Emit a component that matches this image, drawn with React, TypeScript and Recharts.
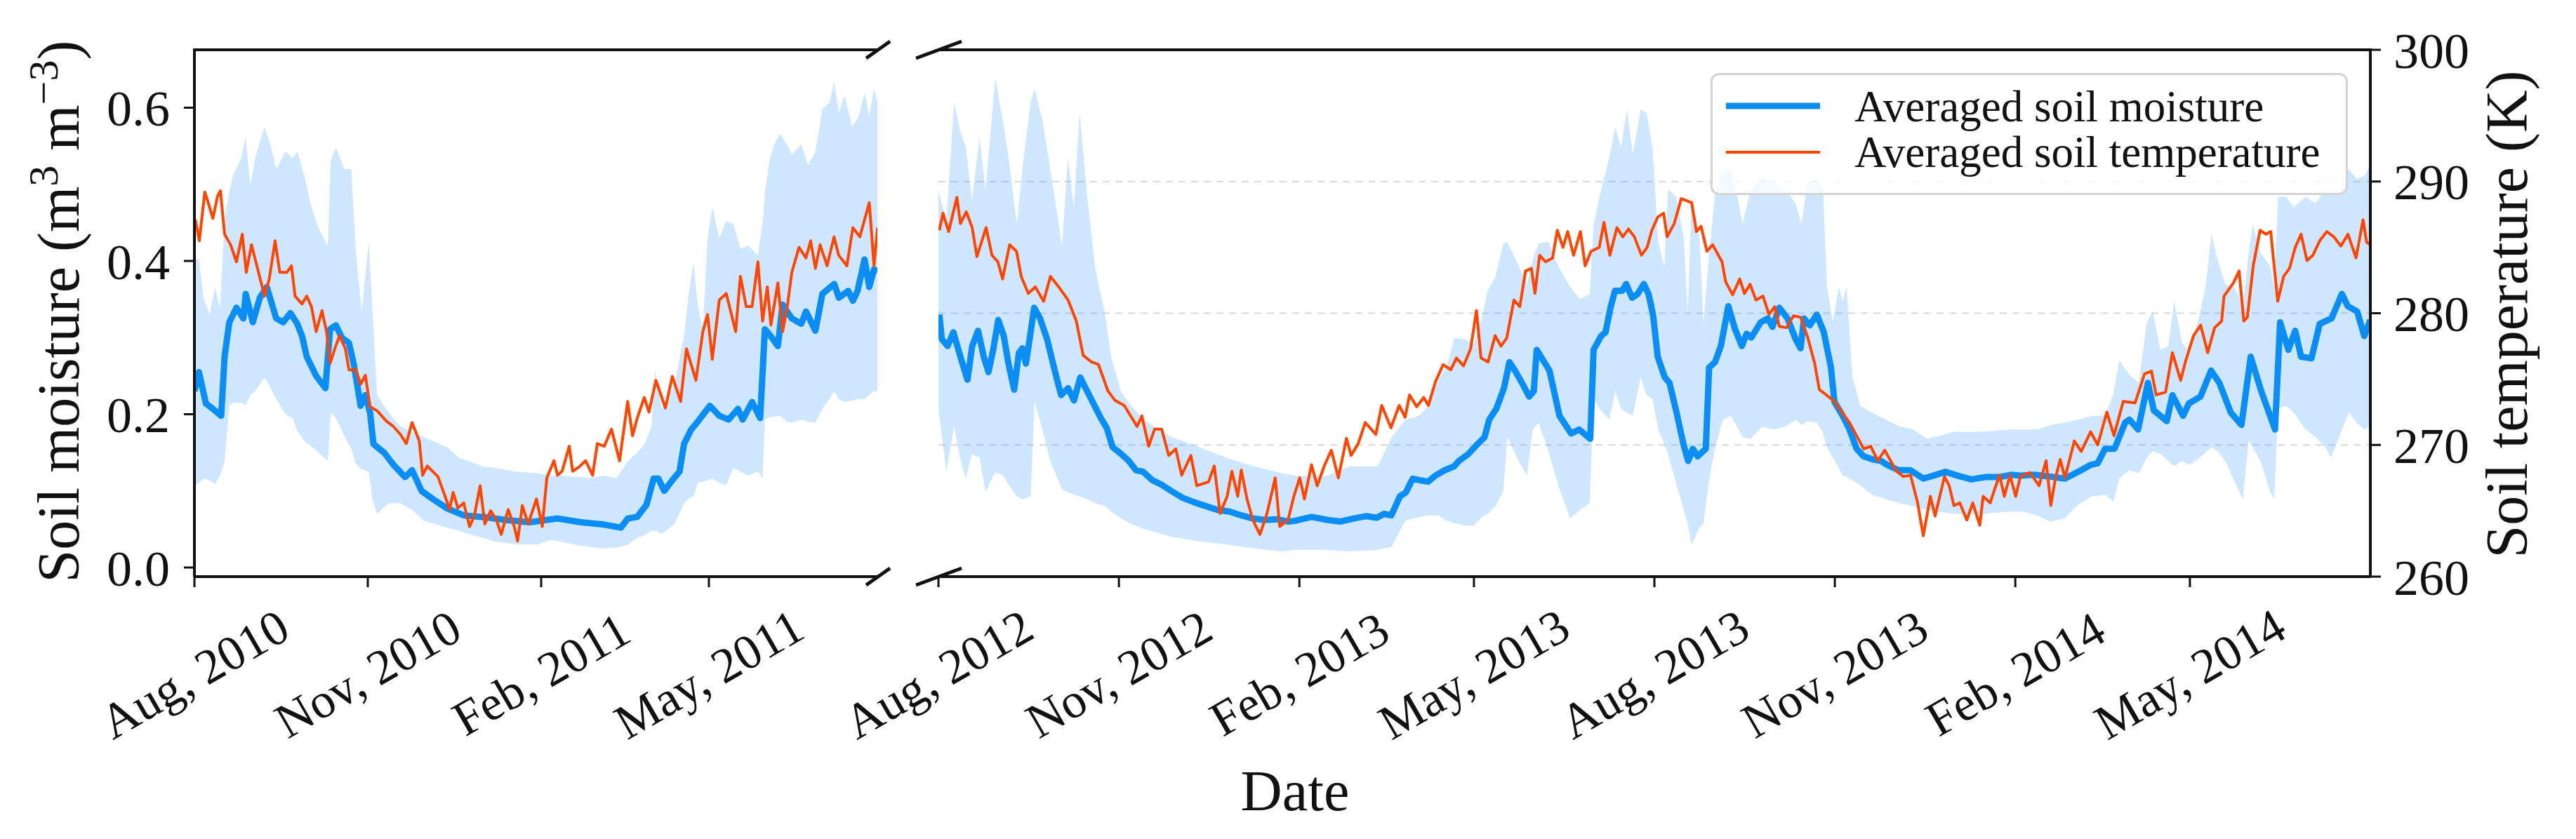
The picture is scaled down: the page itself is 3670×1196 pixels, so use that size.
import React from "react";
import { ComposedChart, Line, Area, XAxis, YAxis, CartesianGrid, Legend } from "recharts";

const FONT = '"Liberation Serif", "Times New Roman", serif';
const INK = "#111";
const SM_BLUE = "#0a8ef5";
const ST_ORANGE = "#ff4500";
const BAND = "#1e90ff";

// x values are days since the first day shown in each panel (Aug 1 2010 / Aug 1 2012)
const leftTickDays = [0, 92, 184, 273];
const leftTickLabels = ["Aug, 2010", "Nov, 2010", "Feb, 2011", "May, 2011"];
const rightTickDays = [0, 92, 184, 273, 365, 457, 549, 638];
const rightTickLabels = [
  "Aug, 2012",
  "Nov, 2012",
  "Feb, 2013",
  "May, 2013",
  "Aug, 2013",
  "Nov, 2013",
  "Feb, 2014",
  "May, 2014",
];
const smTicks = [0, 0.2, 0.4, 0.6];
const stTicks = [260, 270, 280, 290, 300];

// averaged soil moisture, [day, m3/m3]
const smLeft: [number, number][] = [
  [0, 0.23], [2.4, 0.255], [6.1, 0.214], [9.8, 0.207], [14.2, 0.198], [16, 0.275], [18.5, 0.32],
  [22.3, 0.339], [26, 0.325], [27.2, 0.357], [31, 0.32], [34.7, 0.352], [38.4, 0.366], [43.4, 0.325],
  [47.1, 0.32], [50.9, 0.332], [54.6, 0.318], [57.1, 0.302], [59.6, 0.275], [64.6, 0.25], [69.5, 0.234],
  [72, 0.311], [75.1, 0.316], [78.2, 0.3], [82, 0.293], [84.5, 0.266], [88.2, 0.211], [90.7, 0.225],
  [93.2, 0.202], [95, 0.161], [100.6, 0.15], [105.6, 0.134], [111.8, 0.118], [115.5, 0.127], [120.5, 0.1],
  [126.7, 0.089], [134.2, 0.077], [142.9, 0.068], [152.9, 0.066], [165.3, 0.062], [177.7, 0.059],
  [192.7, 0.064], [205.1, 0.059], [217.5, 0.056], [226.3, 0.052], [230, 0.064], [234.9, 0.066],
  [239.9, 0.082], [243.7, 0.116], [246.2, 0.116], [249.3, 0.1], [253.6, 0.114], [257.4, 0.125],
  [259.8, 0.161], [263.6, 0.18], [267.3, 0.191], [273.5, 0.211], [278.5, 0.198], [283.5, 0.193],
  [288.4, 0.207], [290.9, 0.193], [295.9, 0.216], [300.2, 0.195], [302.7, 0.311], [305.8, 0.302],
  [309.6, 0.289], [312.1, 0.343], [317, 0.325], [322, 0.318], [324.5, 0.334], [329.5, 0.309],
  [333.2, 0.357], [339.5, 0.37], [342, 0.352], [346.9, 0.361], [349.4, 0.348], [351.9, 0.361],
  [355.6, 0.402], [358.1, 0.366], [360.6, 0.389], [362.5, 0.386],
];

const smRight: [number, number][] = [
  [0.5, 0.33], [1.7, 0.298], [4.7, 0.289], [7.6, 0.307], [11.2, 0.275], [14.8, 0.245], [17.2, 0.289],
  [20.2, 0.309], [23.1, 0.275], [25.5, 0.255], [27.9, 0.284], [30.5, 0.323], [33.3, 0.302], [35.7, 0.266],
  [38.6, 0.232], [41, 0.28], [42.8, 0.286], [44.6, 0.266], [47, 0.307], [48.8, 0.339], [51.8, 0.325],
  [55.4, 0.298], [58.9, 0.261], [62.5, 0.225], [66.1, 0.234], [69.1, 0.218], [72.3, 0.248], [75, 0.234],
  [78.6, 0.216], [82.8, 0.195], [85.8, 0.182], [88.8, 0.157], [92.3, 0.15], [97.1, 0.139], [100.7, 0.127],
  [104.3, 0.125], [109, 0.114], [113.8, 0.108], [118.6, 0.1], [124.5, 0.091], [130.5, 0.085],
  [136.5, 0.08], [142.4, 0.075], [148.4, 0.073], [154.4, 0.068], [160.3, 0.064], [166.3, 0.062],
  [172.3, 0.063], [178.2, 0.06], [181.8, 0.061], [190.2, 0.066], [198.5, 0.062], [205, 0.06],
  [211.6, 0.064], [217.9, 0.067], [223.5, 0.065], [227.1, 0.07], [230.9, 0.068], [235.3, 0.093],
  [238.3, 0.098], [241.8, 0.116], [245.1, 0.114], [249.7, 0.112], [253.4, 0.12], [258.1, 0.127],
  [262.9, 0.132], [265.3, 0.139], [270.1, 0.148], [274.8, 0.161], [278.4, 0.17], [280.8, 0.193],
  [284.4, 0.207], [288.3, 0.234], [291.1, 0.268], [293.9, 0.257], [297.9, 0.239], [301.2, 0.223],
  [303.5, 0.23], [305, 0.284], [308.4, 0.27], [311.5, 0.257], [316.6, 0.198], [322.5, 0.175],
  [326.7, 0.18], [332.3, 0.168], [334, 0.284], [337.8, 0.302], [340.1, 0.307], [342.6, 0.339],
  [344.9, 0.361], [348.6, 0.361], [350.6, 0.37], [353.6, 0.352], [356.5, 0.357], [359.6, 0.37],
  [362, 0.357], [364.3, 0.33], [366.7, 0.275], [370.3, 0.248], [372.7, 0.241], [376.3, 0.202],
  [379.8, 0.161], [382.2, 0.139], [384.6, 0.155], [387, 0.145], [391.2, 0.155], [392.9, 0.261],
  [395.9, 0.268], [398.9, 0.289], [402.7, 0.341], [406.1, 0.311], [409.6, 0.289], [412, 0.305],
  [414.4, 0.3], [419.2, 0.32], [422.8, 0.325], [425.2, 0.314], [428.7, 0.339], [432.9, 0.325],
  [437, 0.298], [439.5, 0.286], [441.3, 0.325], [444.2, 0.316], [447.8, 0.33], [451.4, 0.307],
  [455, 0.261], [456.8, 0.216], [461, 0.198], [464.5, 0.18], [468.1, 0.155], [471.7, 0.145],
  [476.4, 0.141], [480.6, 0.139], [483.6, 0.134], [489.5, 0.127], [495.5, 0.127], [502.1, 0.116],
  [507.4, 0.12], [513.4, 0.125], [519.4, 0.12], [526.5, 0.115], [533.7, 0.118], [540.9, 0.118],
  [546.8, 0.121], [551.6, 0.12], [558.8, 0.121], [568.3, 0.118], [574.3, 0.116], [582.6, 0.127],
  [587.4, 0.134], [591, 0.136], [594.8, 0.155], [599.6, 0.155], [605, 0.189], [607.2, 0.193],
  [611.6, 0.18], [616.6, 0.241], [619.6, 0.205], [626.2, 0.191], [629.1, 0.225], [634.5, 0.198],
  [637.5, 0.214], [643.4, 0.223], [648.8, 0.257], [653, 0.241], [658.9, 0.202], [664.3, 0.186],
  [669, 0.275], [674.4, 0.23], [681.4, 0.18], [684, 0.32], [688.2, 0.284], [691.7, 0.309],
  [694.7, 0.275], [700, 0.273], [704.2, 0.318], [710.2, 0.325], [715.5, 0.357], [718.5, 0.341],
  [723.3, 0.334], [726.9, 0.302], [730, 0.323],
];

// averaged soil temperature, [day, K]
const stLeft: [number, number][] = [
  [0.5, 287.1], [2.6, 285.5], [5.5, 289.2], [7.3, 288.4], [9.8, 287.2], [12.3, 288.9], [13.8, 289.3],
  [16, 286.0], [19.2, 285.2], [22.3, 283.9], [25.4, 286.0], [27.5, 283.1], [30.3, 285.2], [33.5, 283.4],
  [37.2, 281.3], [39.7, 282.6], [42.8, 285.5], [45.3, 283.1], [49, 283.1], [51.5, 283.6], [53.4, 281.3],
  [57.1, 280.7], [59.6, 281.3], [62.1, 280.5], [64.6, 278.6], [67.7, 280.2], [70.1, 278.6], [72, 276.2],
  [74.5, 277.3], [77, 278.3], [80.1, 277.3], [82, 275.7], [85.7, 275.7], [88.2, 274.6], [90.7, 275.3],
  [93.2, 272.9], [96.9, 272.6], [101.9, 271.8], [105.6, 271.4], [109.3, 270.8], [112.4, 270.1],
  [115.5, 271.7], [119.3, 270.3], [121.1, 267.7], [123.6, 268.4], [129.2, 267.6], [133, 266.1],
  [135.4, 265.1], [137.3, 266.4], [139.8, 265.2], [142.9, 265.6], [146, 263.8], [148.5, 264.6],
  [151.6, 266.9], [154.1, 264.0], [157.2, 265.0], [160.3, 264.3], [162.8, 263.2], [166.5, 265.1],
  [169.7, 263.8], [171.5, 262.7], [174, 265.4], [177.1, 264.0], [181.5, 265.9], [184.6, 263.8],
  [187, 267.5], [190.8, 268.8], [192.7, 267.7], [195.1, 268.0], [198.9, 269.9], [200.7, 268.0],
  [203.9, 268.3], [207.6, 268.8], [211.3, 267.7], [213.8, 270.1], [217.5, 269.9], [221.3, 271.2],
  [225.6, 268.8], [229.9, 273.3], [232.5, 270.7], [234.9, 272.0], [238.7, 273.6], [241.2, 272.5],
  [244.9, 274.9], [249.9, 272.8], [253.6, 275.2], [258, 273.3], [261.1, 277.3], [266.1, 274.9],
  [269.8, 278.6], [272.3, 279.9], [274.8, 276.5], [278.5, 281.0], [282.2, 281.5], [287.2, 278.6],
  [289.7, 282.8], [292.8, 280.5], [295.9, 280.5], [299, 283.9], [301.5, 279.4], [304, 282.0],
  [305.9, 279.1], [309.6, 282.3], [312.1, 278.6], [314.6, 280.5], [317, 283.1], [320.8, 285.0],
  [324.5, 284.2], [327, 285.5], [329.5, 283.4], [332, 285.2], [335.7, 283.6], [339.4, 285.8],
  [341.9, 284.4], [346.2, 283.6], [349.4, 286.5], [353.1, 285.8], [358.1, 288.4], [360.6, 283.6],
  [362.5, 286.5],
];

const stRight: [number, number][] = [
  [0.5, 286.3], [2.3, 287.6], [5.2, 286.2], [9.4, 288.8], [11.2, 286.8], [14.2, 287.7], [17.2, 286.5],
  [19.6, 284.3], [24.3, 286.5], [27.3, 284.4], [30.3, 283.9], [32.7, 282.6], [36.3, 285.2], [39.8, 284.7],
  [42.2, 282.8], [45.8, 281.5], [49.4, 282.0], [53.6, 280.9], [57.1, 282.8], [61.3, 282.0], [66.1, 281.0],
  [70.3, 279.4], [73.8, 276.8], [78, 276.3], [81.6, 276.1], [86.4, 274.1], [89.9, 273.4], [94.7, 273.0],
  [101.3, 271.4], [103.7, 272.2], [107.2, 269.9], [110.2, 271.2], [113.8, 271.2], [117.4, 269.2],
  [121, 269.7], [124, 267.7], [128.7, 269.2], [131.7, 266.9], [137.7, 267.2], [140.6, 268.4],
  [143.6, 264.8], [147.2, 266.1], [149.6, 268.0], [152.6, 266.1], [154.4, 268.1], [157.3, 265.9],
  [160.3, 264.3], [163.9, 263.2], [167.5, 264.8], [171.7, 267.5], [174, 263.8], [178.2, 264.3],
  [181.2, 266.1], [184.2, 267.5], [186.6, 265.9], [190.2, 268.5], [193.1, 266.9], [196.7, 268.4],
  [200.3, 269.6], [203.9, 267.5], [208, 270.5], [210.4, 269.2], [214, 270.1], [217.6, 271.7],
  [223, 270.8], [226, 273.0], [230.7, 271.3], [234.9, 273.0], [237.9, 272.1], [240.2, 273.8],
  [243.8, 272.9], [247.4, 273.6], [249.8, 273.0], [253.4, 274.8], [257.3, 276.1], [261.2, 275.7],
  [264.1, 276.6], [267.7, 276.0], [271.3, 277.3], [274.3, 280.2], [276.6, 276.6], [280.2, 276.3],
  [283.8, 278.3], [286.8, 277.5], [289.7, 278.1], [293.4, 281.0], [296.4, 280.5], [299.3, 283.2],
  [302.3, 283.4], [304.1, 281.5], [306.5, 284.4], [309.5, 283.9], [313.1, 284.2], [315.5, 286.3],
  [318.4, 285.0], [320.8, 286.2], [323.8, 284.4], [327.3, 286.2], [329.7, 283.6], [332.7, 284.7],
  [336.9, 285.0], [339.3, 286.9], [342.3, 284.4], [345.9, 286.5], [348.9, 285.8], [351.8, 286.4],
  [354.8, 285.8], [358.4, 284.4], [361.3, 285.0], [363.7, 286.3], [366.7, 287.3], [369.7, 287.6],
  [371.5, 285.8], [375.1, 286.8], [378.7, 288.7], [384, 288.4], [386.4, 286.2], [388.8, 286.6],
  [391.8, 284.7], [394.7, 285.2], [399.5, 283.9], [401.3, 282.4], [404.9, 281.4], [408.5, 282.6],
  [410.9, 281.5], [413.8, 282.2], [416.8, 281.0], [420.4, 281.3], [423.4, 279.9], [426.3, 280.5],
  [428.7, 279.0], [432.3, 278.9], [435.9, 279.8], [439.5, 279.7], [443.1, 278.2], [446.7, 276.2],
  [449.1, 274.2], [452.6, 273.8], [456.8, 273.3], [461, 272.4], [464.5, 271.7], [468.1, 270.7],
  [471.7, 269.7], [475.3, 269.9], [478.9, 268.8], [482.4, 269.6], [485.4, 268.8], [488.4, 268.0],
  [492, 267.6], [495.6, 267.7], [499.2, 265.6], [502.1, 263.1], [505.7, 266.1], [508.1, 264.6],
  [512.9, 267.6], [515.3, 266.9], [517.7, 265.4], [520.7, 265.6], [524.3, 264.3], [527.3, 265.6],
  [530.9, 263.9], [532.6, 266.1], [536.2, 265.6], [538.6, 266.7], [541, 267.7], [543.4, 266.1],
  [546.3, 267.7], [549.2, 266.1], [551.6, 267.6], [556.4, 267.9], [561.1, 266.9], [564.7, 268.8],
  [567.1, 265.4], [569.5, 267.5], [571.9, 268.9], [574.3, 267.5], [579.1, 270.3], [582.6, 269.5],
  [587.4, 271.0], [591, 270.0], [595.7, 272.5], [599.3, 270.7], [604, 273.3], [610.1, 273.2],
  [614.9, 275.4], [618.4, 275.6], [620.8, 273.8], [625.6, 274.0], [629.1, 277.0], [633.3, 274.9],
  [635.7, 276.3], [639.9, 278.3], [643.5, 279.1], [647.1, 277.0], [650.6, 278.9], [654.2, 279.4],
  [655.4, 281.3], [660.2, 282.3], [663.1, 283.2], [665.5, 279.4], [667.3, 279.7], [670.3, 283.6],
  [673.8, 286.3], [676.8, 286.0], [679.2, 286.2], [682.8, 280.9], [685.8, 282.8], [688.8, 283.4],
  [691.7, 285.0], [694.7, 286.0], [697.7, 284.0], [700.7, 284.4], [704.2, 285.5], [707.8, 286.2],
  [711.4, 285.8], [715, 285.1], [718.6, 286.0], [722.7, 284.2], [726.3, 287.1], [728.1, 285.4],
  [730, 285.2],
];

// spread of soil moisture across stations, [day, low, high]
const bandLeft: [number, number, number][] = [
  [0, 0.107, 0.402], [2.4, 0.11, 0.402], [5, 0.116, 0.35], [8, 0.114, 0.33], [11, 0.109, 0.366],
  [13.6, 0.12, 0.339], [16, 0.139, 0.457], [18.5, 0.211, 0.49], [20.4, 0.215, 0.511], [24.8, 0.215, 0.534],
  [27.2, 0.212, 0.561], [29.7, 0.225, 0.498], [32.2, 0.23, 0.534], [37.2, 0.248, 0.575], [40.3, 0.235, 0.552],
  [43.4, 0.22, 0.52], [48.4, 0.2, 0.543], [52.1, 0.195, 0.534], [54.6, 0.178, 0.543], [58.3, 0.165, 0.511],
  [62.1, 0.158, 0.47], [65.8, 0.15, 0.443], [70.8, 0.139, 0.42], [72.3, 0.202, 0.53], [75.1, 0.195, 0.548],
  [79.5, 0.172, 0.52], [83.2, 0.155, 0.52], [85.7, 0.135, 0.411], [88.8, 0.128, 0.334], [92.5, 0.125, 0.425],
  [94.4, 0.09, 0.339], [96.9, 0.07, 0.225], [103.1, 0.084, 0.202], [109.3, 0.084, 0.184], [115.5, 0.075, 0.177],
  [121.8, 0.061, 0.17], [134.2, 0.052, 0.157], [140.4, 0.048, 0.143], [146.6, 0.043, 0.138], [152.9, 0.039, 0.132],
  [159, 0.034, 0.13], [171.5, 0.03, 0.125], [182, 0.03, 0.123], [189, 0.036, 0.12], [196, 0.033, 0.12],
  [203, 0.029, 0.118], [210, 0.027, 0.117], [217, 0.025, 0.12], [224, 0.026, 0.117], [230, 0.03, 0.139],
  [235, 0.039, 0.15], [239, 0.042, 0.161], [242.5, 0.048, 0.184], [244.5, 0.048, 0.257], [248, 0.044, 0.207],
  [254.8, 0.057, 0.239], [259.8, 0.084, 0.302], [262.3, 0.09, 0.357], [264.8, 0.093, 0.398], [267.3, 0.111, 0.339],
  [269.8, 0.112, 0.311], [272.3, 0.114, 0.43], [274.8, 0.116, 0.47], [278.5, 0.11, 0.43], [282.2, 0.108, 0.452],
  [286, 0.13, 0.448], [289.7, 0.125, 0.416], [294, 0.12, 0.42], [299, 0.125, 0.407], [301.5, 0.116, 0.45],
  [302.7, 0.193, 0.489], [305.1, 0.196, 0.53], [307.6, 0.197, 0.552], [310.8, 0.198, 0.566], [314.5, 0.19, 0.552],
  [317, 0.189, 0.539], [322, 0.193, 0.552], [325.7, 0.19, 0.525], [329.5, 0.189, 0.543], [333.2, 0.207, 0.598],
  [337, 0.22, 0.607], [339.5, 0.23, 0.634], [342, 0.22, 0.593], [345, 0.216, 0.616], [349, 0.218, 0.575],
  [352.5, 0.22, 0.589], [355.6, 0.22, 0.62], [358.1, 0.225, 0.589], [360.6, 0.23, 0.625], [362.5, 0.23, 0.607],
];

const bandRight: [number, number, number][] = [
  [0, 0.207, 0.493], [4, 0.125, 0.45], [8, 0.184, 0.607], [11, 0.143, 0.57], [14, 0.116, 0.548],
  [17, 0.148, 0.48], [21, 0.143, 0.561], [24, 0.098, 0.493], [29, 0.125, 0.639], [33, 0.12, 0.58],
  [36, 0.107, 0.53], [40, 0.093, 0.448], [43, 0.089, 0.525], [47, 0.093, 0.607], [49, 0.216, 0.625],
  [53, 0.18, 0.584], [57, 0.139, 0.52], [63, 0.102, 0.42], [66, 0.098, 0.534], [69, 0.095, 0.47],
  [72, 0.093, 0.593], [76, 0.089, 0.48], [80, 0.084, 0.389], [85, 0.08, 0.33], [88, 0.073, 0.275],
  [93, 0.064, 0.23], [98, 0.057, 0.211], [105, 0.05, 0.193], [112, 0.045, 0.18], [119, 0.04, 0.17],
  [133, 0.034, 0.157], [147, 0.03, 0.143], [161, 0.025, 0.132], [175, 0.021, 0.123], [182, 0.023, 0.12],
  [196, 0.023, 0.118], [210, 0.021, 0.132], [224, 0.023, 0.132], [231, 0.027, 0.17], [238, 0.061, 0.193],
  [245, 0.066, 0.198], [250, 0.068, 0.211], [255, 0.068, 0.245], [259, 0.061, 0.261], [263, 0.058, 0.3],
  [268, 0.055, 0.298], [273, 0.055, 0.293], [277, 0.066, 0.325], [280, 0.07, 0.361], [284, 0.08, 0.38],
  [288, 0.1, 0.423], [290, 0.17, 0.425], [295, 0.143, 0.398], [300, 0.12, 0.37], [303, 0.18, 0.402],
  [306, 0.189, 0.423], [311, 0.152, 0.425], [316, 0.107, 0.393], [322, 0.064, 0.366], [327, 0.075, 0.35],
  [332, 0.084, 0.357], [334, 0.22, 0.448], [337, 0.207, 0.484], [342, 0.193, 0.534], [345, 0.23, 0.575],
  [348, 0.207, 0.548], [351, 0.202, 0.598], [354, 0.198, 0.539], [358, 0.248, 0.598], [361, 0.225, 0.593],
  [364, 0.22, 0.548], [367, 0.18, 0.425], [370, 0.161, 0.393], [372, 0.148, 0.493], [376, 0.111, 0.484],
  [380, 0.075, 0.43], [382, 0.057, 0.33], [384, 0.03, 0.484], [388, 0.052, 0.43], [390, 0.057, 0.32],
  [393, 0.116, 0.411], [396, 0.157, 0.489], [400, 0.193, 0.516], [404, 0.198, 0.52], [408, 0.18, 0.475],
  [410, 0.17, 0.448], [414, 0.168, 0.493], [420, 0.184, 0.511], [426, 0.18, 0.502], [432, 0.184, 0.493],
  [437, 0.193, 0.475], [440, 0.186, 0.448], [443, 0.191, 0.502], [448, 0.189, 0.507], [451, 0.175, 0.493],
  [453, 0.157, 0.366], [456, 0.143, 0.32], [459, 0.13, 0.366], [461, 0.12, 0.348], [463, 0.118, 0.366],
  [466, 0.114, 0.248], [470, 0.107, 0.211], [476, 0.095, 0.202], [483, 0.089, 0.193], [490, 0.084, 0.184],
  [497, 0.08, 0.18], [504, 0.075, 0.168], [518, 0.07, 0.177], [532, 0.07, 0.177], [546, 0.073, 0.18],
  [553, 0.073, 0.18], [560, 0.068, 0.18], [567, 0.06, 0.186], [574, 0.064, 0.189], [581, 0.082, 0.193],
  [588, 0.093, 0.198], [595, 0.095, 0.198], [599, 0.086, 0.227], [602, 0.116, 0.27], [607, 0.127, 0.252],
  [612, 0.123, 0.241], [616, 0.143, 0.32], [619, 0.152, 0.334], [623, 0.148, 0.284], [627, 0.139, 0.289],
  [630, 0.132, 0.348], [634, 0.139, 0.293], [638, 0.134, 0.28], [642, 0.141, 0.32], [646, 0.15, 0.366],
  [649, 0.157, 0.436], [652, 0.152, 0.402], [656, 0.139, 0.37], [661, 0.111, 0.364], [665, 0.089, 0.343],
  [668, 0.166, 0.411], [670, 0.157, 0.448], [674, 0.139, 0.411], [679, 0.098, 0.393], [681, 0.089, 0.366],
  [683, 0.207, 0.484], [687, 0.211, 0.484], [691, 0.202, 0.47], [697, 0.18, 0.484], [702, 0.17, 0.475],
  [707, 0.157, 0.493], [710, 0.143, 0.491], [714, 0.17, 0.489], [719, 0.202, 0.52], [723, 0.189, 0.507],
  [727, 0.18, 0.511], [730, 0.184, 0.525],
];

const toLine = (rows: [number, number][]) => rows.map(([d, v]) => ({ d, v }));
const toBand = (rows: [number, number, number][]) => rows.map(([d, lo, hi]) => ({ d, range: [lo, hi] }));

const SM_DOMAIN: [number, number] = [-0.0119, 0.6755];
const ST_DOMAIN: [number, number] = [260, 300];

const axisLine = { stroke: INK, strokeWidth: 4 };
const tickLine = { stroke: INK, strokeWidth: 3 };
const numTick = { fontSize: 72, fontFamily: FONT, fill: INK };

function dateTick(days: number[], labels: string[]) {
  return (props: any) => {
    const { x, y, payload } = props;
    const label = labels[days.indexOf(payload.value)];
    return (
      <g transform={`translate(${x},${y + 124}) rotate(-30)`}>
        <text textAnchor="middle" dominantBaseline="central" fontFamily={FONT} fontSize={70} fill={INK}>
          {label}
        </text>
      </g>
    );
  };
}

function LegendBox() {
  return (
    <div
      style={{
        width: 908,
        height: 174,
        boxSizing: "border-box",
        border: "3px solid #d4d4d4",
        borderRadius: 12,
        background: "rgba(255,255,255,0.8)",
      }}
    >
      <svg width={902} height={168} style={{ display: "block" }}>
        <line x1={19} x2={153} y1={44} y2={44} stroke={SM_BLUE} strokeWidth={9} />
        <line x1={19} x2={153} y1={110} y2={110} stroke={ST_ORANGE} strokeWidth={4} />
        <text x={202} y={66} fontFamily={FONT} fontSize={63} fill={INK}>
          Averaged soil moisture
        </text>
        <text x={202} y={131} fontFamily={FONT} fontSize={63} fill={INK}>
          Averaged soil temperature
        </text>
      </svg>
    </div>
  );
}

const W = 3670;
const H = 1196;

export default function App() {
  return (
    <div style={{ position: "absolute", left: 0, top: 0, width: W, height: H, background: "#fff", fontFamily: FONT }}>
      {/* 2010-2011 panel */}
      <div style={{ position: "absolute", left: 0, top: 0 }}>
        <ComposedChart width={W} height={H} margin={{ top: 71, right: W - 1250, bottom: 0, left: 0 }}>
          <XAxis
            dataKey="d"
            type="number"
            domain={[0, 362.4]}
            ticks={leftTickDays}
            interval={0}
            allowDataOverflow
            height={374}
            tickSize={15}
            tickMargin={0}
            axisLine={axisLine}
            tickLine={tickLine}
            tick={dateTick(leftTickDays, leftTickLabels)}
          />
          <YAxis
            yAxisId="m"
            orientation="left"
            width={277}
            domain={SM_DOMAIN}
            ticks={smTicks}
            allowDataOverflow
            tickFormatter={(v: number) => v.toFixed(1)}
            tickSize={15}
            tickMargin={20}
            axisLine={axisLine}
            tickLine={tickLine}
            tick={numTick}
          />
          <YAxis yAxisId="t" orientation="right" hide domain={ST_DOMAIN} allowDataOverflow />
          <Area
            yAxisId="m"
            data={toBand(bandLeft)}
            dataKey="range"
            type="linear"
            stroke="none"
            fill={BAND}
            fillOpacity={0.22}
            isAnimationActive={false}
          />
          <Line
            yAxisId="m"
            data={toLine(smLeft)}
            dataKey="v"
            type="linear"
            stroke={SM_BLUE}
            strokeWidth={9}
            strokeLinejoin="round"
            dot={false}
            isAnimationActive={false}
          />
          <Line
            yAxisId="t"
            data={toLine(stLeft)}
            dataKey="v"
            type="linear"
            stroke={ST_ORANGE}
            strokeWidth={4}
            strokeLinejoin="round"
            dot={false}
            isAnimationActive={false}
          />
        </ComposedChart>
      </div>

      {/* 2012-2014 panel */}
      <div style={{ position: "absolute", left: 0, top: 0 }}>
        <ComposedChart width={W} height={H} margin={{ top: 71, right: 0, bottom: 0, left: 1337 }}>
          <CartesianGrid yAxisId="t" vertical={false} stroke="#d9d9d9" strokeDasharray="10 8" strokeWidth={2} />
          <XAxis
            dataKey="d"
            type="number"
            domain={[0, 730]}
            ticks={rightTickDays}
            interval={0}
            allowDataOverflow
            height={374}
            tickSize={15}
            tickMargin={0}
            axisLine={axisLine}
            tickLine={tickLine}
            tick={dateTick(rightTickDays, rightTickLabels)}
          />
          <YAxis yAxisId="m" orientation="left" hide domain={SM_DOMAIN} allowDataOverflow />
          <YAxis
            yAxisId="t"
            orientation="right"
            width={293}
            domain={ST_DOMAIN}
            ticks={stTicks}
            allowDataOverflow
            tickSize={15}
            tickMargin={18}
            axisLine={axisLine}
            tickLine={tickLine}
            tick={numTick}
          />
          <Area
            yAxisId="m"
            data={toBand(bandRight)}
            dataKey="range"
            type="linear"
            stroke="none"
            fill={BAND}
            fillOpacity={0.22}
            isAnimationActive={false}
          />
          <Line
            yAxisId="m"
            data={toLine(smRight)}
            dataKey="v"
            name="Averaged soil moisture"
            type="linear"
            stroke={SM_BLUE}
            strokeWidth={9}
            strokeLinejoin="round"
            dot={false}
            isAnimationActive={false}
          />
          <Line
            yAxisId="t"
            data={toLine(stRight)}
            dataKey="v"
            name="Averaged soil temperature"
            type="linear"
            stroke={ST_ORANGE}
            strokeWidth={4}
            strokeLinejoin="round"
            dot={false}
            isAnimationActive={false}
          />
          <Legend
            layout="horizontal"
            verticalAlign="middle"
            align="center"
            content={() => <LegendBox />}
            wrapperStyle={{ left: 2437, top: 104, width: 908, height: 174 }}
          />
        </ComposedChart>
      </div>

      {/* spines at the top, axis break marks and axis titles */}
      <svg
        width={W}
        height={H}
        style={{ position: "absolute", left: 0, top: 0, pointerEvents: "none" }}
        fontFamily={FONT}
      >
        <line x1={275} x2={1250} y1={71} y2={71} stroke={INK} strokeWidth={4} />
        <line x1={1337} x2={3379} y1={71} y2={71} stroke={INK} strokeWidth={4} />
        <g stroke={INK} strokeWidth={5}>
          <line x1={1234} y1={83} x2={1268} y2={59} />
          <line x1={1234} y1={834} x2={1268} y2={810} />
          <line x1={1305} y1={83} x2={1370} y2={59} />
          <line x1={1305} y1={834} x2={1370} y2={810} />
        </g>
        <text transform="translate(112,444) rotate(-90)" textAnchor="middle" fontSize={84} fill={INK}>
          Soil moisture (m
          <tspan dy={-30} fontSize={60}>3</tspan>
          <tspan dy={30}>{" m"}</tspan>
          <tspan dy={-30} fontSize={60}>−3</tspan>
          <tspan dy={30}>)</tspan>
        </text>
        <text transform="translate(3600,448) rotate(-90)" textAnchor="middle" fontSize={84} fill={INK}>
          Soil temperature (K)
        </text>
        <text x={1845} y={1155} textAnchor="middle" fontSize={82} fill={INK}>
          Date
        </text>
      </svg>
    </div>
  );
}
